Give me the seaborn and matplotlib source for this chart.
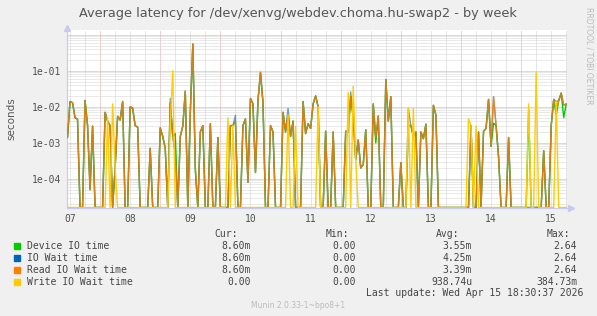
import numpy as np
import pandas as pd
import matplotlib
matplotlib.use("Agg")
import matplotlib.pyplot as plt
import seaborn as sns

# ---------------- data (hours since Apr 07 00:00, 1h steps) ----------------
hours = list(range(11, 211))

read_vals = [
    1.4e-3, 1.4e-2, 1.3e-2, 5e-3, 4.5e-3, 0, 0, 1.5e-2, 3e-3, 5e-5,          # 11-20
    2.9e-3, 0, 0, 0, 0, 7e-3, 4e-3, 3e-3, 0, 2e-4,                          # 21-30
    5.4e-3, 4.3e-3, 1.4e-2, 0, 0, 1e-2, 9e-3, 3e-3, 2.7e-3, 0,              # 31-40
    0, 0, 0, 7e-4, 0, 0, 0, 2.6e-3, 1.5e-3, 7e-4,                           # 41-50
    0, 1.3e-2, 1.5e-3, 5e-4, 0, 1.5e-3, 2.9e-3, 2.7e-2, 0, 7e-3,            # 51-60
    0.55, 2e-4, 0, 2e-3, 3e-3, 0, 0, 3.4e-3, 0, 0,                          # 61-70
    1.4e-3, 0, 0, 0, 0, 3e-3, 3e-3, 4e-3, 0, 0,                             # 71-80
    3e-3, 4.6e-3, 8e-5, 1.7e-2, 1.2e-2, 1.5e-4, 1.5e-2, 9e-2, 1.3e-2, 0,    # 81-90
    0, 3e-3, 2e-3, 0, 0, 0, 7e-3, 2e-3, 6e-3, 1.5e-3,                       # 91-100
    4e-3, 0, 0, 0, 1.4e-2, 1.8e-3, 3.4e-3, 2.5e-3, 1.2e-2, 2e-2,            # 101-110
    1e-2, 0, 0, 2.1e-3, 0, 0, 2e-3, 0, 0, 0,                                # 111-120
    0, 2.1e-3, 2e-3, 1.9e-2, 5e-3, 3.4e-4, 1.2e-3, 2e-4, 2.5e-4, 2.3e-3,    # 121-130
    0, 0, 1.2e-2, 1.4e-3, 5.5e-3, 0, 0, 5.7e-2, 4e-3, 1.9e-2,               # 131-140
    0, 0, 0, 2.8e-4, 0, 0, 3e-3, 3e-3, 1.5e-3, 2e-3,                        # 141-150
    0, 2e-3, 1.3e-3, 3.3e-3, 0, 0, 1.1e-2, 5.8e-3, 0, 0,                    # 151-160
    0, 0, 0, 0, 0, 0, 0, 0, 0, 0,                                           # 161-170
    0, 3e-3, 0, 0, 2e-3, 0, 2.1e-3, 2.5e-3, 1.6e-2, 8e-4,                   # 171-180
    1.9e-2, 3e-3, 4e-4, 0, 0, 0, 1.4e-3, 0, 0, 0,                           # 181-190
    0, 0, 0, 0, 0, 0, 0, 0, 0, 0,                                           # 191-200
    6e-4, 0, 0, 3e-3, 1.6e-2, 8e-3, 1.5e-2, 2.4e-2, 1.1e-2, 1.2e-2,         # 201-210
]

device_vals = [
    1.4e-3, 1.4e-2, 1.3e-2, 5e-3, 4.5e-3, 0, 0, 1.5e-2, 3e-3, 5e-5,
    2.9e-3, 0, 0, 0, 0, 7e-3, 4e-3, 3e-3, 0, 2e-4,
    5.4e-3, 4.3e-3, 1.4e-2, 0, 0, 1e-2, 9e-3, 3e-3, 2.7e-3, 0,
    0, 0, 0, 7e-4, 0, 0, 0, 2.6e-3, 1.5e-3, 7e-4,
    0, 1.3e-2, 1.5e-3, 1.8e-3, 0, 1.5e-3, 2.9e-3, 2.7e-2, 0, 7e-3,
    0.55, 1.7e-4, 0, 2e-3, 3e-3, 0, 0, 3.4e-3, 0, 0,
    1.4e-3, 0, 0, 0, 0, 3e-3, 3e-3, 4e-3, 0, 0,
    3e-3, 4.6e-3, 8e-5, 1.7e-2, 1.2e-2, 1.5e-4, 1.5e-2, 9e-2, 1.3e-2, 0,
    0, 3e-3, 2e-3, 0, 0, 0, 7e-3, 2e-3, 6e-3, 1.5e-3,
    4e-3, 0, 0, 0, 1.4e-2, 1.8e-3, 3.4e-3, 2.5e-3, 1.2e-2, 2e-2,
    1e-2, 0, 0, 2.1e-3, 0, 0, 2e-3, 0, 0, 0,
    0, 2.1e-3, 2e-3, 1.9e-2, 5e-3, 3.4e-4, 1.2e-3, 2e-4, 2.5e-4, 2.3e-3,
    0, 0, 1.2e-2, 1e-3, 5.5e-3, 0, 0, 5.7e-2, 4e-3, 1.9e-2,
    0, 0, 0, 2.8e-4, 0, 0, 3e-3, 3e-3, 1.5e-3, 2e-3,
    0, 2e-3, 1.3e-3, 3.3e-3, 0, 0, 1.1e-2, 5.8e-3, 0, 0,
    0, 0, 0, 0, 0, 0, 0, 0, 0, 0,
    0, 3e-3, 0, 0, 2e-3, 0, 2.1e-3, 2.5e-3, 1.6e-2, 8e-4,
    3.5e-3, 3e-3, 4e-4, 0, 0, 0, 1.4e-3, 0, 0, 0,
    0, 0, 0, 0, 8e-3, 0, 0, 0, 0, 0,
    6e-4, 0, 0, 3e-3, 1.6e-2, 5.9e-3, 1.5e-2, 2.4e-2, 5e-3, 1.2e-2,
]

iowait_vals = [
    1.4e-3, 1.4e-2, 1.3e-2, 5e-3, 4.5e-3, 0, 0, 1.5e-2, 3e-3, 5e-5,
    2.9e-3, 0, 0, 0, 0, 7e-3, 4e-3, 3e-3, 0, 2e-4,
    5.4e-3, 4.3e-3, 1.4e-2, 0, 0, 1e-2, 9e-3, 3e-3, 2.7e-3, 0,
    0, 0, 0, 7e-4, 0, 0, 0, 2.6e-3, 1.5e-3, 7e-4,
    0, 1.7e-2, 1.5e-3, 5e-4, 0, 1.5e-3, 2.9e-3, 2.7e-2, 0, 7e-3,
    0.55, 2e-4, 0, 2e-3, 3e-3, 0, 0, 3.4e-3, 0, 0,
    1.4e-3, 0, 0, 0, 0, 3e-3, 3e-3, 5.8e-3, 0, 0,
    3e-3, 4.6e-3, 8e-5, 1.7e-2, 1.2e-2, 1.5e-4, 1.5e-2, 9e-2, 1.3e-2, 0,
    0, 3e-3, 2e-3, 0, 0, 0, 7e-3, 2e-3, 9e-3, 1.5e-3,
    4e-3, 0, 0, 0, 1.4e-2, 1.8e-3, 3.4e-3, 2.5e-3, 1.2e-2, 2e-2,
    1e-2, 0, 0, 2.1e-3, 0, 0, 2e-3, 0, 0, 0,
    0, 2.1e-3, 2e-3, 2.6e-2, 5e-3, 3.4e-4, 1.2e-3, 2e-4, 2.5e-4, 2.3e-3,
    0, 0, 1.2e-2, 1.4e-3, 5.5e-3, 0, 0, 5.7e-2, 4e-3, 1.9e-2,
    0, 0, 0, 2.8e-4, 0, 0, 9e-3, 3e-3, 1.5e-3, 2e-3,
    0, 2e-3, 1.3e-3, 3.3e-3, 0, 0, 1.1e-2, 5.8e-3, 0, 0,
    0, 0, 0, 0, 0, 0, 0, 0, 0, 0,
    0, 3e-3, 0, 0, 2e-3, 0, 2.1e-3, 2.5e-3, 1.6e-2, 8e-4,
    1.9e-2, 3e-3, 4e-4, 0, 0, 0, 1.4e-3, 0, 0, 0,
    0, 0, 0, 0, 0, 0, 0, 0, 0, 0,
    6e-4, 0, 0, 3e-3, 1.6e-2, 1.4e-2, 1.5e-2, 2.4e-2, 1.1e-2, 1.2e-2,
]

write_vals = [
    0, 0, 0, 0, 0, 0, 0, 0, 0, 0,
    0, 0, 0, 0, 0, 0, 5e-3, 0, 1.2e-2, 2e-4,
    0, 0, 0, 0, 0, 0, 0, 0, 0, 0,
    0, 0, 0, 0, 0, 0, 0, 0, 0, 0,
    0, 3e-3, 1e-1, 0, 0, 0, 0, 0, 0, 0,
    0, 0, 0, 0, 0, 0, 0, 0, 0, 0,
    0, 0, 0, 0, 5e-3, 0, 3e-3, 0, 0, 0,
    0, 0, 0, 0, 0, 0, 0, 0, 0, 0,
    0, 0, 0, 0, 0, 0, 0, 0, 6e-3, 0,
    0, 2.9e-3, 0, 0, 0, 0, 0, 0, 0, 0,
    1e-2, 0, 0, 0, 0, 0, 0, 0, 0, 0,
    0, 0, 2.5e-2, 0, 3.7e-2, 3.4e-4, 0, 0, 0, 0,
    0, 0, 0, 0, 0, 0, 0, 0, 0, 0,
    0, 0, 0, 0, 0, 0, 9e-3, 0, 9e-3, 0,
    0, 0, 0, 0, 0, 0, 0, 0, 0, 0,
    0, 0, 0, 0, 0, 0, 0, 0, 0, 0,
    4.6e-3, 3e-3, 0, 2.9e-3, 0, 0, 0, 0, 0, 0,
    0, 0, 0, 0, 0, 0, 0, 0, 0, 0,
    0, 0, 0, 0, 1.2e-2, 0, 0, 9e-2, 0, 0,
    0, 0, 0, 0, 0, 1.4e-2, 0, 0, 0, 0,
]

series_names = ["Device IO time", "IO Wait time", "Read IO Wait time", "Write IO Wait time"]
series_colors = ["#00cc00", "#0066b3", "#ff8000", "#ffcc00"]
series_alpha = [1.0, 0.6, 0.82, 1.0]
cur_vals = ["8.60m", "8.60m", "8.60m", "0.00"]
min_vals = ["0.00", "0.00", "0.00", "0.00"]
avg_vals = ["3.55m", "4.25m", "3.39m", "938.74u"]
max_vals = ["2.64", "2.64", "2.64", "384.73m"]
day_labels = ["07", "08", "09", "10", "11", "12", "13", "14", "15"]
ytick_vals = [1e-4, 1e-3, 1e-2, 1e-1]
ytick_labels = ["1e-04", "1e-03", "1e-02", "1e-01"]

# ---------------- figure ----------------
W, H = 597, 316
BG = "#f0f0f0"
sns.set_style("white")
plt.rcParams["font.family"] = ["DejaVu Sans"]
fig = plt.figure(figsize=(W / 100, H / 100), dpi=100, facecolor=BG)
L, R, T, B = 67, 567, 30, 208
ax = fig.add_axes([L / W, 1 - B / H, (R - L) / W, (B - T) / H])
ax.set_facecolor("white")

ymin, ymax = 1.55e-5, 1.35
floor = 1.6e-5
for name, vals, col, al in zip(series_names,
                               [device_vals, iowait_vals, read_vals, write_vals],
                               series_colors, series_alpha):
    v = np.clip(np.array(vals, dtype=float), floor, None)
    d = pd.DataFrame({"hour": hours, "value": v})
    sns.lineplot(data=d, x="hour", y="value", color=col, alpha=al, estimator=None,
                 legend=False, lw=1.0, ax=ax, zorder=3)
ax.set_yscale("log")
ax.set_ylim(ymin, ymax)
xmin, xmax = 10.8, 210.3
ax.set_xlim(xmin, xmax)

# grid
dot = (0, (1, 1))
for h in np.arange(0, 216, 6):
    if xmin < h < xmax:
        if h % 24 == 0:
            ax.axvline(h, color="#e8a0a0", lw=0.72, ls=dot, zorder=1)
        else:
            ax.axvline(h, color="#cfcfcf", lw=0.72, ls=dot, zorder=1)
for dd in range(-5, 1):
    for m in range(1, 10):
        val = m * 10.0 ** dd
        if ymin < val < ymax:
            if m == 1:
                ax.axhline(val, color="#e8a0a0", lw=0.72, ls=dot, zorder=1)
            else:
                ax.axhline(val, color="#d4d4d4", lw=0.72, ls=dot, zorder=1)

ax.set_yticks(ytick_vals)
ax.set_yticklabels(ytick_labels, family="DejaVu Sans Mono", fontsize=7, color="#505050")
ax.yaxis.set_minor_locator(matplotlib.ticker.NullLocator())
ax.set_xticks([12 + 24 * i for i in range(len(day_labels))])
ax.set_xticklabels(day_labels, family="DejaVu Sans Mono", fontsize=7, color="#505050")
ax.tick_params(axis="both", length=0, pad=4)
ax.set_xlabel("")
ax.set_ylabel("")

for s in ["top", "right"]:
    ax.spines[s].set_visible(False)
ax.spines["left"].set_color("#c8c8f0")
ax.spines["bottom"].set_color("#c8c8f0")
ax.spines["left"].set_linewidth(0.8)
ax.spines["bottom"].set_linewidth(0.8)
ax.plot([0], [1.01], marker="^", color="#c8c8f0", ms=4, transform=ax.transAxes, clip_on=False)
ax.plot([1.007], [0], marker=">", color="#c8c8f0", ms=4, transform=ax.transAxes, clip_on=False)

def px(x, y):
    return x / W, 1 - y / H

fig.text(*px(298, 13.5), "Average latency for /dev/xenvg/webdev.choma.hu-swap2 - by week",
         ha="center", va="center", fontsize=9.3, color="#555555")
fig.text(*px(11, 119), "seconds", rotation=90, ha="center", va="center",
         fontsize=7.5, color="#555555")
fig.text(*px(589, 56), "RRDTOOL / TOBI OETIKER", rotation=270, ha="center", va="center",
         fontsize=5.5, color="#bbbbbb")

mono = "DejaVu Sans Mono"
tc = "#444444"
fs = 7
hy = 233.7
for xr, lab in [(238, "Cur:"), (349, "Min:"), (459, "Avg:"), (570, "Max:")]:
    fig.text(*px(xr, hy), lab, ha="right", va="center", family=mono, fontsize=fs, color=tc)
for i, name in enumerate(series_names):
    y = 245.7 + 12 * i
    fig.patches.append(plt.Rectangle((14 / W, 1 - (y + 3) / H), 6 / W, 6 / H,
                                     transform=fig.transFigure, color=series_colors[i]))
    fig.text(*px(27, y), name, ha="left", va="center", family=mono, fontsize=fs, color=tc)
    fig.text(*px(251, y), cur_vals[i], ha="right", va="center", family=mono, fontsize=fs, color=tc)
    fig.text(*px(356, y), min_vals[i], ha="right", va="center", family=mono, fontsize=fs, color=tc)
    fig.text(*px(472, y), avg_vals[i], ha="right", va="center", family=mono, fontsize=fs, color=tc)
    fig.text(*px(577, y), max_vals[i], ha="right", va="center", family=mono, fontsize=fs, color=tc)
fig.text(*px(583, 293.5), "Last update: Wed Apr 15 18:30:37 2026", ha="right", va="center",
         family=mono, fontsize=fs, color=tc)
fig.text(*px(298, 305), "Munin 2.0.33-1~bpo8+1", ha="center", va="center",
         fontsize=5.5, color="#bbbbbb")

fig.savefig("out.png", dpi=100, facecolor=BG)
